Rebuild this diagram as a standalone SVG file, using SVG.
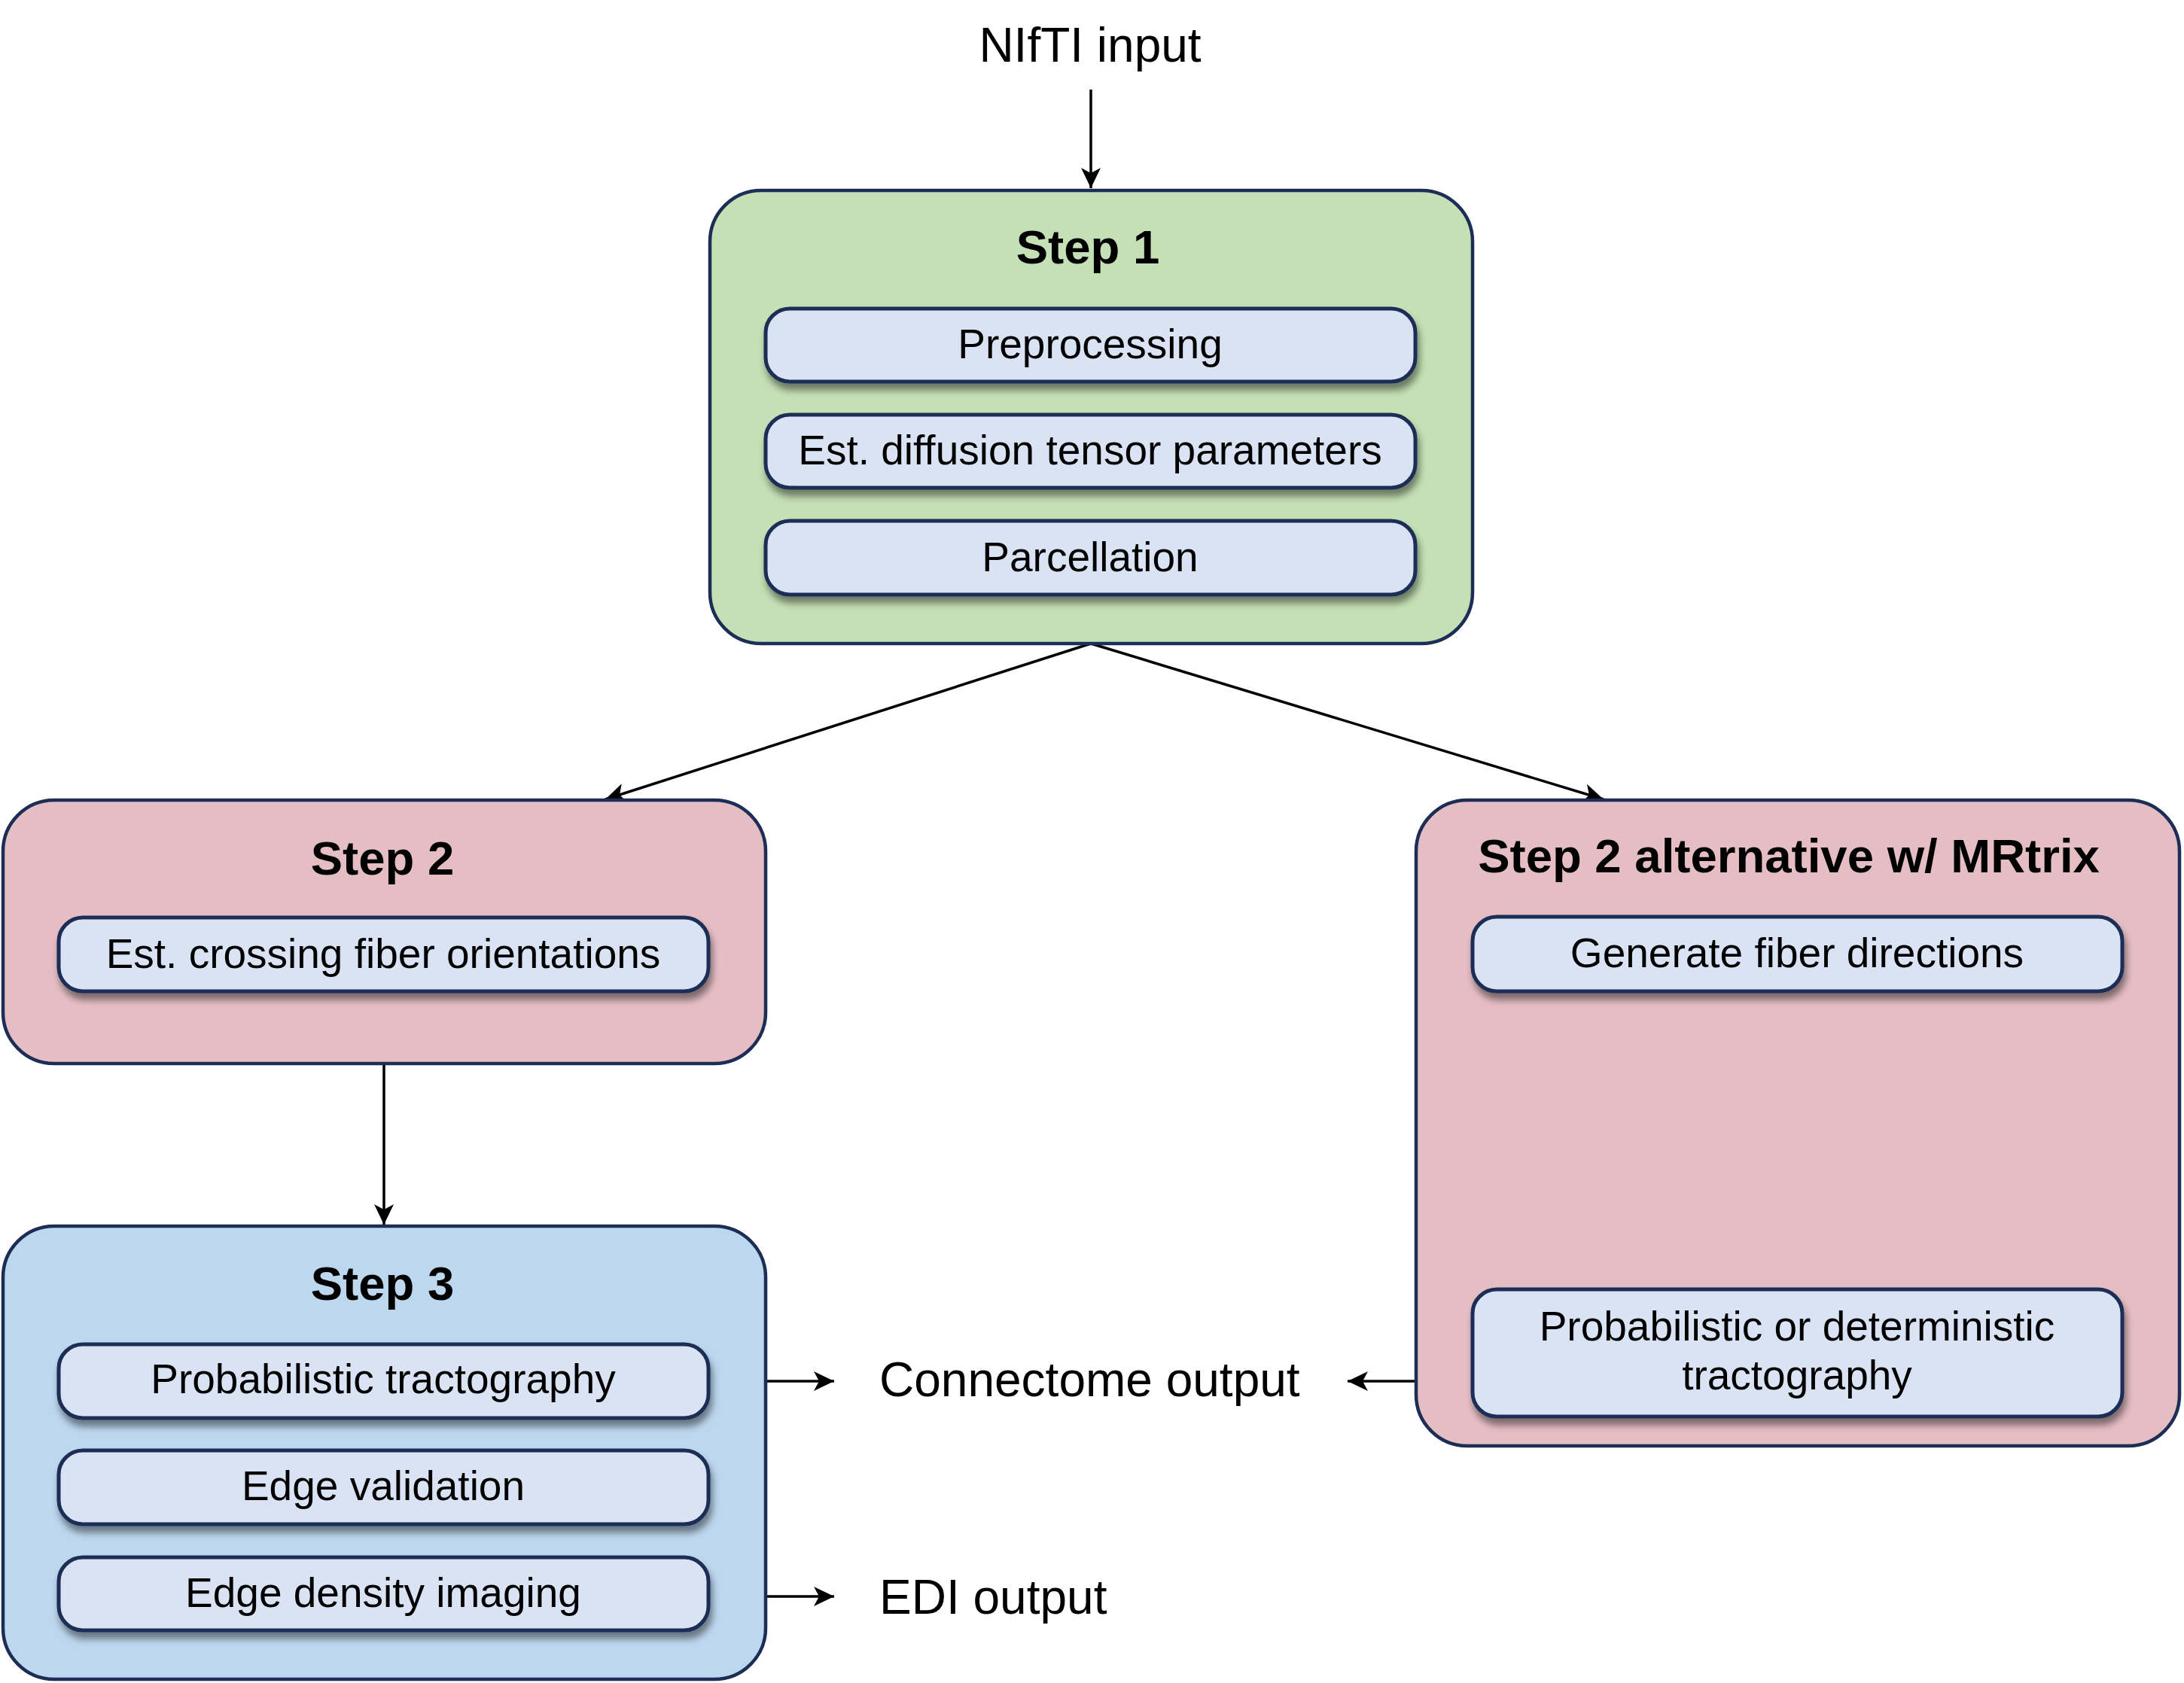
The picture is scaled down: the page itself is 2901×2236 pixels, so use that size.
<svg xmlns="http://www.w3.org/2000/svg" width="2901" height="2236" viewBox="0 0 2901 2236">
<defs>
<style>
.big{stroke:#1c2e55;stroke-width:4.5}
.s1{fill:#c5e0b4}
.s2{fill:#e5bec4}
.s3{fill:#bdd7ee}
.sub{fill:#dae3f3;stroke:#1c2e55;stroke-width:5;filter:url(#sh)}
.t{font-family:"Liberation Sans",Arial,Helvetica,sans-serif;fill:#000;text-anchor:middle}
.lab{font-size:55px}
.ttl{font-size:63.5px;font-weight:bold}
.out{font-size:64px;text-anchor:start}
.con{stroke:#000;stroke-width:3.5;fill:none;marker-end:url(#ah)}
</style>
<filter id="sh" x="-10%" y="-30%" width="120%" height="170%">
<feDropShadow dx="3" dy="9" stdDeviation="5" flood-color="#000" flood-opacity="0.45"/>
</filter>
<marker id="ah" markerUnits="userSpaceOnUse" markerWidth="30" markerHeight="30" viewBox="-28 -15 30 30" refX="0" refY="0" orient="auto">
<path d="M0,0 L-27,-13 L-20,0 L-27,13 Z" fill="#000"/>
</marker>
</defs>
<rect width="2901" height="2236" fill="#fff"/>

<g id="connectors">
<line class="con" x1="1449" y1="119" x2="1449" y2="250"/>
<line class="con" x1="1449" y1="855" x2="804" y2="1062"/>
<line class="con" x1="1449" y1="855" x2="2130" y2="1062"/>
<line class="con" x1="510" y1="1413" x2="510" y2="1627"/>
<line class="con" x1="1017" y1="1835" x2="1108" y2="1835"/>
<line class="con" x1="1017" y1="2121" x2="1108" y2="2121"/>
<line class="con" x1="1880" y1="1835" x2="1790" y2="1835"/>
</g>

<g id="nifti-input">
<text class="t" x="1448" y="82" style="font-size:64px">NIfTI input</text>
</g>

<g id="step1">
<rect class="big s1" x="943" y="253" width="1013" height="602" rx="68"/>
<text class="t ttl" x="1445" y="350">Step 1</text>
<g id="preprocessing">
<rect class="sub" x="1017" y="410" width="863" height="97" rx="32"/>
<text class="t lab" x="1448" y="476">Preprocessing</text>
</g>
<g id="est-diffusion">
<rect class="sub" x="1017" y="551" width="863" height="97" rx="32"/>
<text class="t lab" x="1448" y="617">Est. diffusion tensor parameters</text>
</g>
<g id="parcellation">
<rect class="sub" x="1017" y="692" width="863" height="98" rx="32"/>
<text class="t lab" x="1448" y="759">Parcellation</text>
</g>
</g>

<g id="step2">
<rect class="big s2" x="4" y="1063" width="1013" height="350" rx="68"/>
<text class="t ttl" x="508" y="1162">Step 2</text>
<g id="est-crossing">
<rect class="sub" x="78" y="1219" width="863" height="98" rx="32"/>
<text class="t lab" x="509" y="1286">Est. crossing fiber orientations</text>
</g>
</g>

<g id="step2-alt">
<rect class="big s2" x="1881" y="1063" width="1014" height="858" rx="68"/>
<text class="t ttl" x="2376" y="1159">Step 2 alternative w/ MRtrix</text>
<g id="generate-fiber">
<rect class="sub" x="1956" y="1218" width="863" height="99" rx="32"/>
<text class="t lab" x="2387" y="1285">Generate fiber directions</text>
</g>
<g id="prob-det-tract">
<rect class="sub" x="1956" y="1713" width="863" height="169" rx="32"/>
<text class="t lab" x="2387" y="1781">Probabilistic or deterministic</text>
<text class="t lab" x="2387" y="1846">tractography</text>
</g>
</g>

<g id="step3">
<rect class="big s3" x="4" y="1629" width="1013" height="602" rx="68"/>
<text class="t ttl" x="508" y="1727">Step 3</text>
<g id="prob-tract">
<rect class="sub" x="78" y="1786" width="863" height="98" rx="32"/>
<text class="t lab" x="509" y="1851">Probabilistic tractography</text>
</g>
<g id="edge-validation">
<rect class="sub" x="78" y="1927" width="863" height="98" rx="32"/>
<text class="t lab" x="509" y="1993">Edge validation</text>
</g>
<g id="edge-density">
<rect class="sub" x="78" y="2069" width="863" height="97" rx="32"/>
<text class="t lab" x="509" y="2135">Edge density imaging</text>
</g>
</g>

<g id="connectome-output">
<text class="t out" x="1168" y="1855">Connectome output</text>
</g>
<g id="edi-output">
<text class="t out" x="1168" y="2144">EDI output</text>
</g>
</svg>
